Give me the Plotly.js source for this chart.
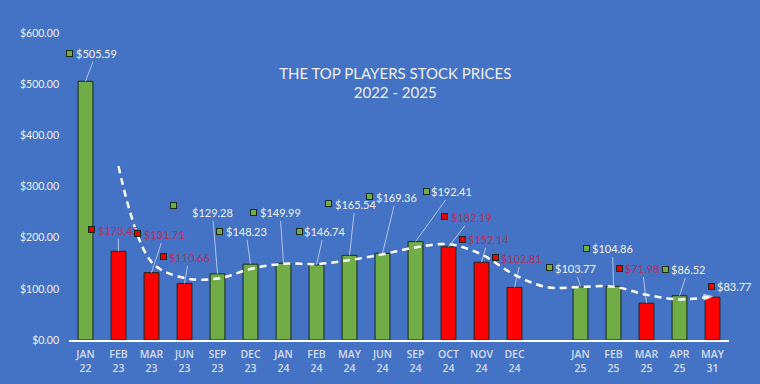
<!DOCTYPE html>
<html>
<head>
<meta charset="utf-8">
<script src="https://cdn.plot.ly/plotly-3.0.1.min.js"></script>
<style>html,body{margin:0;padding:0;background:#4472c4;}#chart{width:760px;height:384px;}</style>
</head>
<body>
<div id="chart"></div>
<script>
// ---- DATA ----
var months = ["JAN","FEB","MAR","JUN","SEP","DEC","JAN","FEB","MAY","JUN","SEP","OCT","NOV","DEC","","JAN","FEB","MAR","APR","MAY"];
var years  = ["22","23","23","23","23","23","24","24","24","24","24","24","24","24","","25","25","25","25","31"];
var prices = [505.59,173.45,131.71,110.66,129.28,148.23,149.99,146.74,165.54,169.36,192.41,182.19,152.14,102.81,null,103.77,104.86,71.98,86.52,83.77];
var direction = ["up","down","down","down","up","up","up","up","up","up","up","down","down","down","","up","up","down","up","down"];
var trendX = [1,2,3,4,5,6,7,8,9,10,11,12,13,14,15,16,17,18,19];
var trendValues = [339.5,152.6,121.2,120.0,138.8,149.1,148.4,156.1,167.5,180.9,187.3,167.2,127.5,103.0,103.8,104.3,88.4,79.3,85.1];

// ---- LAYOUT CONFIG (label offsets in px from bar top) ----
var textOff = [[10.5,-27.6],[-0.5,-20.4],[12.5,-37.7],[4.5,-25.5],[-5,-61],[-4.5,-32.3],[-3.5,-50.4],[7.5,-33],[5.5,-50.4],[13.5,-55.5],[36,-49.7],[22.5,-28.9],[6.5,-22.3],[6.5,-28.5],null,[-5.5,-18],[-1,-37.4],[-4,-34.2],[8.5,-25.8],[21.5,-10.2]];
var sqOff = [[-16.5,-27.6],[-27.5,-21.4],[-14.5,-38.7],[-21.5,-26.5],[-44.5,-67.9],[-31.5,-32.3],[-30.5,-50.4],[-17.5,-33],[-21.5,-51.4],[-13.5,-56.5],[10.5,-49.7],[-4.5,-29.9],[-19.5,-22.3],[-19.5,-29.5],null,[-31.5,-19],[-27.5,-37.4],[-27.5,-34.2],[-14.5,-25.8],[-1.5,-10.2]];
var noLeader = [19];

var GREEN = "#70ad47", RED = "#ff0000";
var xIdx = prices.map(function(_, i){ return i; });
var barColors = direction.map(function(d){ return d === "down" ? RED : GREEN; });
var tickText = months.map(function(m, i){ return m ? m + "<br>" + years[i] : ""; });

var bars = {
  type: "bar", x: xIdx, y: prices, width: 0.45,
  marker: {color: barColors, line: {color: "#1b2a1b", width: 1}},
  hoverinfo: "skip", showlegend: false
};
var nT = trendX.length;
var trend = {
  type: "scatter", mode: "lines+markers", x: trendX, y: trendValues,
  line: {color: "#ffffff", width: 2.5, dash: "7px,5px", shape: "spline", smoothing: 1},
  marker: {
    color: "#ffffff",
    size: trendX.map(function(_, i){ return i === 0 ? 7 : (i === nT - 1 ? 9 : 0); }),
    symbol: trendX.map(function(_, i){ return i === nT - 1 ? "arrow" : "circle"; }),
    angleref: "previous"
  },
  hoverinfo: "skip", showlegend: false
};

var annotations = [];
prices.forEach(function(v, i){
  if (v === null) return;
  var isRed = direction[i] === "down";
  var label = "$" + v.toFixed(2);
  var txtColor = (isRed && i !== 19) ? "#b8305c" : "#f2f2f2";
  annotations.push({
    x: i, y: v, xref: "x", yref: "y", text: label,
    showarrow: true, arrowhead: 0, arrowwidth: 1, standoff: 0,
    arrowcolor: noLeader.indexOf(i) >= 0 ? "rgba(0,0,0,0)" : "rgba(215,225,245,0.75)",
    ax: textOff[i][0], ay: textOff[i][1],
    font: {family: "Lato, 'Open Sans', sans-serif", size: 11, color: txtColor}
  });
  annotations.push({
    x: i, y: v, xref: "x", yref: "y", text: " ",
    showarrow: false, xshift: sqOff[i][0], yshift: -sqOff[i][1],
    width: 5, height: 5, bgcolor: isRed ? "#e80000" : GREEN,
    bordercolor: "#1b2a1b", borderwidth: 1, borderpad: 0,
    font: {size: 1}
  });
});

var layout = {
  width: 760, height: 384,
  paper_bgcolor: "#4472c4", plot_bgcolor: "#4472c4",
  margin: {l: 69, r: 31, t: 33, b: 44},
  title: {
    text: "THE TOP PLAYERS STOCK PRICES<br>2022 - 2025",
    x: 0.52, xref: "container", xanchor: "center",
    y: 0.795, yref: "container", yanchor: "middle",
    font: {family: "Lato, 'Open Sans', sans-serif", size: 15, color: "#f0f0f0"}
  },
  xaxis: {
    range: [-0.5, 19.5], tickvals: xIdx, ticktext: tickText,
    showgrid: false, zeroline: false, showline: true, linecolor: "#ffffff", linewidth: 1.5,
    ticks: "", ticklabelstandoff: 4,
    tickfont: {family: "'Open Sans', Lato, sans-serif", size: 10.5, weight: 600, color: "#d6deef"}
  },
  yaxis: {
    range: [0, 600], dtick: 100, tickformat: "$,.2f",
    showgrid: false, zeroline: false, showline: false, ticks: "", ticklabelstandoff: 9,
    tickfont: {family: "Lato, 'Open Sans', sans-serif", size: 10.5, color: "#f2f2f2"}
  },
  annotations: annotations,
  bargap: 0
};

Plotly.newPlot("chart", [bars, trend], layout, {displayModeBar: false, staticPlot: true});
</script>
</body>
</html>
